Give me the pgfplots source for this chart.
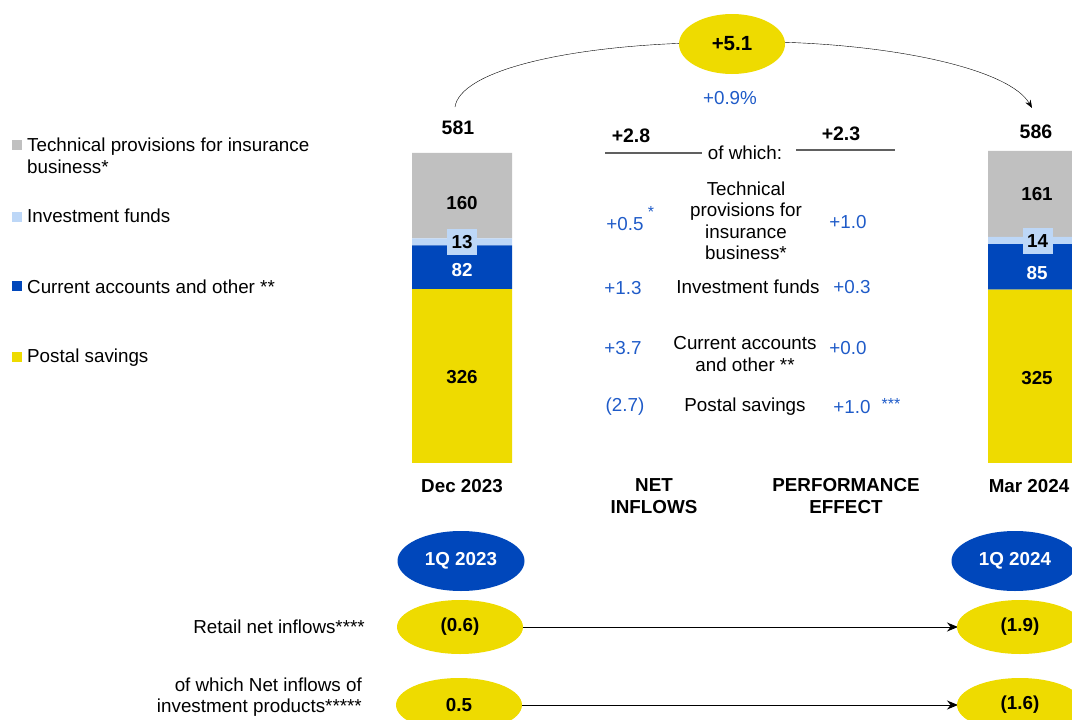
\documentclass[border=0pt]{standalone}
\usepackage{pgfplots}
\pgfplotsset{compat=1.18}
\usepackage{fontspec}
\setmainfont{Liberation Sans}
\usetikzlibrary{shapes.geometric,arrows.meta}
\definecolor{pgray}{HTML}{C0C0C0}
\definecolor{plblue}{HTML}{BDD7F7}
\definecolor{pdblue}{HTML}{0047BB}
\definecolor{pyellow}{HTML}{EEDB00}
\definecolor{ptblue}{HTML}{1F5BC8}
\definecolor{pline}{HTML}{606060}
\begin{document}
\begin{tikzpicture}[font=\fontsize{18.8}{21.5}\selectfont]
% ---- stacked bars (values in the chart's units) ----
\begin{axis}[name=bars, at={(0,0)}, anchor=south west,
  width=1072pt, height=720pt, scale only axis, hide axis,
  xmin=0, xmax=1072, ymin=-481.67, ymax=867.76,
  ybar stacked, bar width=100, clip=true]
\addplot[fill=pyellow, draw=none] coordinates {(462,326) (1038,325)};
\addplot[fill=pdblue, draw=none] coordinates {(462,82) (1038,85)};
\addplot[fill=plblue, draw=none] coordinates {(462,13) (1038,14)};
\addplot[fill=pgray, draw=none] coordinates {(462,160) (1038,161)};
\end{axis}
% ---- annotation layer (pixel-like coordinates) ----
\begin{axis}[name=ov, at={(0,0)}, anchor=south west,
  width=1072pt, height=720pt, scale only axis, hide axis,
  xmin=0, xmax=1072, ymin=0, ymax=720, y dir=reverse, clip=false]
% legend
\fill[pgray]  (12,140) rectangle (22,150);
\fill[plblue] (12,212) rectangle (22,222);
\fill[pdblue] (12,281) rectangle (22,291);
\fill[pyellow](12,352) rectangle (22,362);
\node[anchor=west, align=left, inner sep=0pt] at (27,156) {Technical provisions for insurance\\business*};
\node[anchor=west, inner sep=0pt] at (27,216) {Investment funds};
\node[anchor=west, inner sep=0pt] at (27,287) {Current accounts and other **};
\node[anchor=west, inner sep=0pt] at (27,358) {Postal savings};
% top arc and ellipse
\draw[black, thin] (455,107) .. controls (460,72) and (560,47) .. (690,43);
\draw[black, thin, -{Stealth[length=8pt,width=6pt]}] (775,42) .. controls (900,45) and (1010,70) .. (1032,108);
\node[ellipse, fill=pyellow, minimum width=106pt, minimum height=60pt, inner sep=0pt, font=\fontsize{20.5}{22}\selectfont\bfseries] at (732,44) {+5.1};
\node[text=ptblue, inner sep=0pt] at (730,98) {+0.9\%};
% totals
\node[inner sep=0pt, font=\fontsize{19.5}{22}\selectfont\bfseries] at (458,128) {581};
\node[inner sep=0pt, font=\fontsize{19.5}{22}\selectfont\bfseries] at (1036,132) {586};
% bar labels
\begin{scope}[every node/.style={inner sep=0pt, font=\fontsize{18.8}{21}\selectfont\bfseries}]
\node at (462,203) {160};
\node[fill=plblue, minimum width=30pt, minimum height=26pt] at (462,242) {13};
\node[text=white] at (462,270) {82};
\node at (462,377) {326};
\node at (1037,194) {161};
\node[fill=plblue, minimum width=30pt, minimum height=26pt] at (1037.5,241) {14};
\node[text=white] at (1037,273) {85};
\node at (1037,378) {325};
\end{scope}
% decomposition
\node[inner sep=0pt, font=\fontsize{19.5}{22}\selectfont\bfseries] at (631,136) {+2.8};
\node[inner sep=0pt, font=\fontsize{19.5}{22}\selectfont\bfseries] at (841,134) {+2.3};
\draw[pline, line width=1.3pt] (605,153) -- (702,153);
\draw[pline, line width=1.3pt] (796,150) -- (895,150);
\node[inner sep=0pt] at (745,153) {of which:};
\node[align=center, inner sep=0pt, font=\fontsize{18.8}{21.5}\selectfont] at (746,221) {Technical\\provisions for\\insurance\\business*};
\node[inner sep=0pt] at (748,287) {Investment funds};
\node[align=center, inner sep=0pt, font=\fontsize{18.8}{21.5}\selectfont] at (745,354) {Current accounts\\and other **};
\node[inner sep=0pt] at (745,407) {Postal savings};
\begin{scope}[every node/.style={inner sep=0pt, text=ptblue}]
\node at (625,224) {+0.5};
\node[font=\fontsize{16}{18}\selectfont] at (651,212) {*};
\node at (848,222) {+1.0};
\node at (623,288) {+1.3};
\node at (852,287) {+0.3};
\node at (623,348) {+3.7};
\node at (848,348) {+0.0};
\node at (625,407) {(2.7)};
\node at (852,407) {+1.0};
\node[font=\fontsize{16}{18}\selectfont] at (891,404) {***};
\end{scope}
% category labels
\begin{scope}[every node/.style={inner sep=0pt, align=center, font=\fontsize{18.8}{22.5}\selectfont\bfseries}]
\node at (462,486) {Dec 2023};
\node at (654,496) {NET\\INFLOWS};
\node at (846,496) {PERFORMANCE\\EFFECT};
\node at (1029,486) {Mar 2024};
\end{scope}
% bottom section
\node[ellipse, fill=pdblue, text=white, minimum width=127pt, minimum height=60pt, inner sep=0pt, font=\fontsize{18.8}{22}\selectfont\bfseries] at (461,561) {1Q 2023};
\node[ellipse, fill=pdblue, text=white, minimum width=127pt, minimum height=60pt, inner sep=0pt, font=\fontsize{18.8}{22}\selectfont\bfseries] at (1015,561) {1Q 2024};
\draw[black, line width=1pt, -{Stealth[length=11pt,width=9pt]}] (520,627) -- (958,627);
\draw[black, line width=1pt, -{Stealth[length=11pt,width=9pt]}] (518,705) -- (958,705);
\begin{scope}[every node/.style={ellipse, fill=pyellow, minimum width=126pt, minimum height=54pt, inner sep=0pt, font=\fontsize{18.8}{22}\selectfont\bfseries}]
\node at (460,627) {(0.6)};
\node at (1020,627) {(1.9)};
\node at (459,705) {0.5};
\node at (1020,705) {(1.6)};
\end{scope}
\node[anchor=east, inner sep=0pt] at (365,627) {Retail net inflows****};
\node[anchor=east, align=right, inner sep=0pt, font=\fontsize{18.8}{20.5}\selectfont] at (362,697) {of which Net inflows of\\investment products*****};
\end{axis}
\pgfresetboundingbox
\path (ov.south west) rectangle (ov.north east);
\end{tikzpicture}
\end{document}
